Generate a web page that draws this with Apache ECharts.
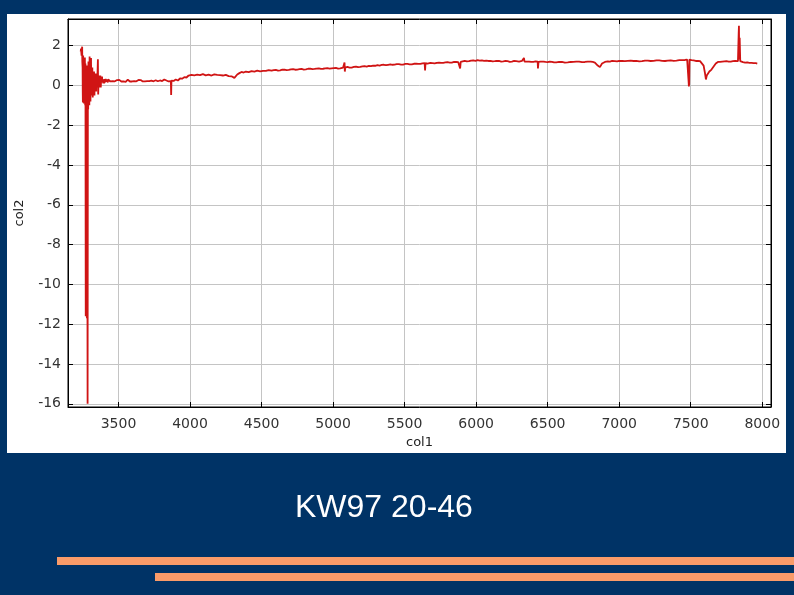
<!DOCTYPE html>
<html>
<head>
<meta charset="utf-8">
<script src="https://cdn.jsdelivr.net/npm/echarts@6/dist/echarts.min.js"></script>
<style>html,body{margin:0;padding:0;background:#003366;}#c{width:794px;height:595px;}</style>
</head>
<body>
<div id="c"></div>
<script>
// wavelength (col1)
const waveX = [
3236,3238,3240,3242,3243,3244,3246,3247,3249,3250,3251,3252,3253,3254,3255,3256,3257,3258,3259,3260,
3261,3262,3263,3264,3265,3266,3267,3268,3269,3271,3273,3275,3277,3279,3281,3284,3286,3287,3288,3289,
3290,3291,3292,3293,3294,3295,3296,3297,3298,3299,3300,3301,3302,3303,3304,3305,3306,3308,3309,3310,
3311,3312,3313,3314,3315,3317,3318,3320,3321,3323,3324,3326,3327,3329,3330,3332,3333,3335,3336,3338,
3339,3341,3342,3344,3345,3347,3348,3350,3351,3353,3356,3357,3358,3360,3361,3363,3364,3366,3367,3369,
3370,3372,3373,3375,3376,3378,3379,3381,3382,3384,3385,3387,3388,3390,3391,3393,3394,3396,3397,3399,
3400,3402,3404,3406,3408,3410,3412,3414,3416,3418,3420,3423,3425,3428,3430,3433,3435,3438,3440,3443,
3446,3450,3455,3460,3465,3470,3475,3480,3485,3490,3495,3500,3505,3510,3515,3520,3525,3530,3535,3540,
3545,3550,3555,3560,3565,3570,3575,3580,3585,3590,3595,3600,3605,3610,3615,3620,3625,3630,3635,3640,
3645,3650,3655,3660,3665,3670,3675,3680,3685,3690,3695,3700,3705,3710,3715,3720,3725,3730,3735,3740,
3745,3750,3755,3760,3765,3770,3775,3780,3785,3790,3795,3800,3805,3810,3815,3820,3825,3830,3835,3840,
3845,3850,3855,3860,3866,3868,3870,3875,3880,3885,3890,3895,3900,3905,3910,3915,3920,3925,3930,3935,
3940,3945,3950,3955,3960,3965,3970,3975,3980,3985,3990,3995,4000,4010,4020,4030,4040,4050,4060,4070,
4080,4090,4100,4110,4120,4130,4140,4150,4160,4170,4180,4190,4200,4210,4220,4230,4240,4250,4260,4270,
4280,4290,4300,4310,4320,4330,4345,4360,4375,4390,4400,4410,4420,4430,4440,4450,4460,4470,4480,4490,
4500,4510,4520,4530,4540,4550,4560,4570,4585,4600,4615,4630,4645,4660,4675,4690,4705,4720,4735,4750,
4765,4780,4795,4810,4825,4840,4855,4870,4885,4900,4915,4930,4945,4960,4975,4990,5005,5020,5035,5050,
5060,5070,5075,5080,5082,5085,5090,5100,5115,5130,5145,5160,5175,5190,5205,5220,5235,5250,5265,5280,
5295,5310,5325,5340,5355,5370,5385,5400,5415,5430,5445,5460,5475,5490,5505,5520,5535,5550,5565,5580,
5595,5610,5625,5640,5643,5646,5660,5680,5695,5710,5725,5740,5755,5770,5785,5800,5815,5830,5845,5860,
5875,5885,5888,5892,5905,5920,5935,5950,5965,5980,5995,6010,6025,6040,6055,6070,6085,6100,6115,6130,
6145,6160,6175,6190,6205,6220,6235,6250,6265,6280,6300,6320,6334,6338,6350,6370,6385,6400,6415,6430,
6432,6436,6450,6470,6485,6500,6515,6530,6545,6560,6580,6600,6620,6640,6660,6680,6700,6720,6740,6760,
6780,6800,6815,6830,6850,6865,6880,6900,6920,6935,6950,6970,6985,7000,7020,7040,7060,7080,7100,7120,
7140,7160,7180,7200,7220,7240,7260,7280,7300,7320,7340,7360,7380,7400,7420,7440,7460,7475,7482,7485,
7487,7489,7491,7494,7505,7520,7535,7550,7565,7575,7590,7600,7606,7612,7620,7630,7645,7660,7675,7690,
7705,7720,7735,7750,7765,7780,7795,7810,7820,7830,7835,7837,7839,7842,7846,7850,7865,7880,7895,7910,
7925,7940,7955,7965
];
// flux (col2)
const fluxY = [
1.7,1.85,1.9,1.5,1.6,1.8,1.95,1.2,0.9,-0.3,-0.85,0.8,1.5,-0.4,-0.7,0.9,1.3,-0.5,-0.9,0.7,
1.2,-0.2,-0.6,0.9,1.4,-0.3,-1.0,0.6,1.1,-11.6,0.9,-11.4,0.7,-11.7,1.0,-16.0,0.6,-0.8,-1.2,0.4,
1.2,0.2,-0.9,0.5,0.8,-0.4,-1.0,0.6,1.45,0.3,-0.6,0.2,0.9,-0.3,-0.8,0.4,0.6,1.38,0.1,-0.5,
0.3,0.7,-0.1,-0.4,0.5,0.9,0.1,-0.6,0.2,0.6,0.0,-0.3,0.5,0.7,0.0,-0.5,0.3,0.5,-0.1,-0.2,
0.4,0.6,0.0,-0.3,0.3,0.55,0.1,-0.1,0.2,0.5,1.32,0.3,-0.45,0.1,0.5,0.2,-0.1,0.1,0.45,0.2,
0.0,0.2,0.5,0.1,-0.1,0.2,0.4,0.15,0.05,0.3,0.45,0.15,0.05,0.3,0.4,0.2,0.1,0.3,0.38,0.2,
0.1,0.32,0.4,0.15,0.12,0.33,0.35,0.18,0.15,0.3,0.38,0.2,0.15,0.3,0.32,0.2,0.18,0.3,0.3,0.2,
0.2,0.28,0.24,0.22,0.29,0.3,0.21,0.2,0.26,0.27,0.19,0.22,0.28,0.3,0.23,0.2,0.26,0.25,0.2,0.28,
0.25,0.18,0.22,0.25,0.29,0.3,0.24,0.2,0.25,0.24,0.2,0.15,0.19,0.22,0.28,0.26,0.21,0.18,0.23,0.28,
0.26,0.22,0.27,0.3,0.24,0.2,0.23,0.25,0.21,0.18,0.2,0.22,0.26,0.27,0.22,0.2,0.23,0.24,0.2,0.18,
0.21,0.23,0.28,0.26,0.23,0.2,0.21,0.22,0.27,0.25,0.21,0.2,0.22,0.24,0.28,0.3,0.26,0.22,0.25,0.27,
0.23,0.2,0.22,0.25,0.22,-0.48,0.24,0.26,0.28,0.23,0.22,0.27,0.3,0.24,0.2,0.25,0.28,0.33,0.35,0.31,
0.3,0.34,0.38,0.4,0.42,0.38,0.35,0.4,0.45,0.48,0.5,0.46,0.48,0.53,0.55,0.51,0.5,0.54,0.56,0.52,
0.52,0.57,0.55,0.51,0.5,0.54,0.55,0.5,0.52,0.56,0.56,0.53,0.5,0.52,0.54,0.5,0.49,0.53,0.52,0.47,
0.48,0.46,0.45,0.38,0.42,0.55,0.62,0.68,0.65,0.7,0.66,0.67,0.71,0.72,0.68,0.7,0.73,0.74,0.7,0.71,
0.75,0.73,0.72,0.73,0.76,0.77,0.73,0.74,0.77,0.78,0.75,0.76,0.79,0.8,0.77,0.78,0.81,0.82,0.79,0.8,
0.82,0.83,0.8,0.81,0.84,0.85,0.82,0.83,0.85,0.86,0.83,0.84,0.86,0.87,0.85,0.86,0.87,0.88,0.85,0.86,
0.88,0.9,0.87,1.15,0.7,0.9,0.94,0.93,0.9,0.9,0.93,0.95,0.92,0.93,0.96,0.97,0.95,0.98,0.97,1.0,
0.99,1.02,1.0,1.03,1.04,1.02,1.04,1.06,1.04,1.05,1.07,1.07,1.05,1.05,1.08,1.08,1.06,1.06,1.09,1.1,
1.08,1.08,1.11,1.12,0.75,1.12,1.1,1.13,1.12,1.11,1.14,1.15,1.13,1.14,1.16,1.17,1.15,1.15,1.18,1.18,
1.17,1.2,0.85,1.18,1.22,1.24,1.21,1.22,1.25,1.26,1.24,1.27,1.25,1.26,1.24,1.25,1.23,1.24,1.21,1.22,
1.24,1.23,1.2,1.21,1.23,1.22,1.19,1.2,1.23,1.22,1.2,1.23,1.38,1.2,1.21,1.2,1.18,1.19,1.21,1.2,
0.85,1.18,1.2,1.2,1.18,1.17,1.2,1.19,1.16,1.16,1.19,1.18,1.15,1.16,1.18,1.19,1.2,1.2,1.17,1.18,
1.2,1.2,1.18,1.15,1.0,0.92,1.1,1.18,1.21,1.2,1.23,1.22,1.21,1.24,1.23,1.22,1.24,1.25,1.23,1.24,
1.21,1.22,1.25,1.25,1.23,1.24,1.26,1.26,1.24,1.23,1.25,1.26,1.24,1.25,1.27,1.27,1.28,1.3,1.33,0.2,
-0.05,0.1,1.3,1.25,1.27,1.26,1.23,1.24,1.22,1.2,1.0,0.6,0.3,0.5,0.55,0.7,0.8,0.95,1.1,1.18,
1.19,1.2,1.21,1.22,1.2,1.2,1.22,1.23,1.21,1.22,2.6,3.0,1.3,2.4,1.22,1.2,1.17,1.15,1.16,1.14,
1.13,1.12,1.12,1.1
];
const xTicks = [3500,4000,4500,5000,5500,6000,6500,7000,7500,8000];
const yTicks = [2,0,-2,-4,-6,-8,-10,-12,-14,-16];
const titleText = 'KW97 20-46';

const chart = echarts.init(document.getElementById('c'), null, {renderer:'canvas'});
const pts = waveX.map((x,i)=>[x, fluxY[i]]);
const lblFont = {fontFamily:'DejaVu Sans', fontSize:14, color:'#333'};
const option = {
  backgroundColor:'#003366',
  animation:false,
  title:{text:titleText, left:290, top:487, textStyle:{color:'#ffffff', fontFamily:'Liberation Sans, Arial, sans-serif', fontSize:32, fontWeight:'normal'}},
  graphic:[
    {type:'rect', z:-10, shape:{x:7,y:14,width:779,height:439}, style:{fill:'#ffffff'}, silent:true},
    {type:'rect', z:-10, shape:{x:57,y:557,width:737,height:8}, style:{fill:'#f99b69'}, silent:true},
    {type:'rect', z:-10, shape:{x:155,y:573,width:639,height:8}, style:{fill:'#f99b69'}, silent:true}
  ],
  grid:{left:68, top:19, width:703, height:388, show:true, backgroundColor:'#ffffff', borderColor:'#000', borderWidth:1, outerBoundsMode:'none'},
  xAxis:[{
    type:'value', min:3147, max:8061, splitNumber:10, position:'bottom',
    name:'col1', nameLocation:'middle', nameGap:28, nameTextStyle:{fontFamily:'DejaVu Sans', fontSize:13, color:'#222'},
    axisLine:{show:true, onZero:false, lineStyle:{color:'#000'}},
    axisTick:{show:true, inside:true, length:5, lineStyle:{color:'#000'}},
    axisLabel:Object.assign({margin:10, showMinLabel:false, showMaxLabel:false,
      formatter:v=> xTicks.indexOf(v)>=0 ? String(v) : ''}, lblFont),
    splitLine:{show:true, lineStyle:{color:'#c4c4c4', width:1}}
  },{
    type:'value', min:3147, max:8061, splitNumber:10, position:'top',
    axisLine:{show:true, onZero:false, lineStyle:{color:'#000'}},
    axisTick:{show:true, inside:true, length:5, lineStyle:{color:'#000'}},
    axisLabel:{show:false}, splitLine:{show:false}
  }],
  yAxis:[{
    type:'value', min:-16.16, max:3.34, splitNumber:10, position:'left',
    name:'col2', nameLocation:'middle', nameGap:42, nameRotate:90, nameTextStyle:{fontFamily:'DejaVu Sans', fontSize:13, color:'#222'},
    axisLine:{show:true, onZero:false, lineStyle:{color:'#000'}},
    axisTick:{show:true, inside:true, length:5, lineStyle:{color:'#000'}},
    axisLabel:Object.assign({margin:7, showMinLabel:false, showMaxLabel:false,
      formatter:v=> yTicks.indexOf(v)>=0 ? String(v) : ''}, lblFont),
    splitLine:{show:true, lineStyle:{color:'#c4c4c4', width:1}}
  },{
    type:'value', min:-16.16, max:3.34, splitNumber:10, position:'right',
    axisLine:{show:true, onZero:false, lineStyle:{color:'#000'}},
    axisTick:{show:true, inside:true, length:5, lineStyle:{color:'#000'}},
    axisLabel:{show:false}, splitLine:{show:false}
  }],
  series:[{
    type:'line', xAxisIndex:0, yAxisIndex:0, data:pts, showSymbol:false, symbol:'none',
    lineStyle:{color:'#d01414', width:1.8}, z:5
  }]
};
chart.setOption(option);
</script>
</body>
</html>
